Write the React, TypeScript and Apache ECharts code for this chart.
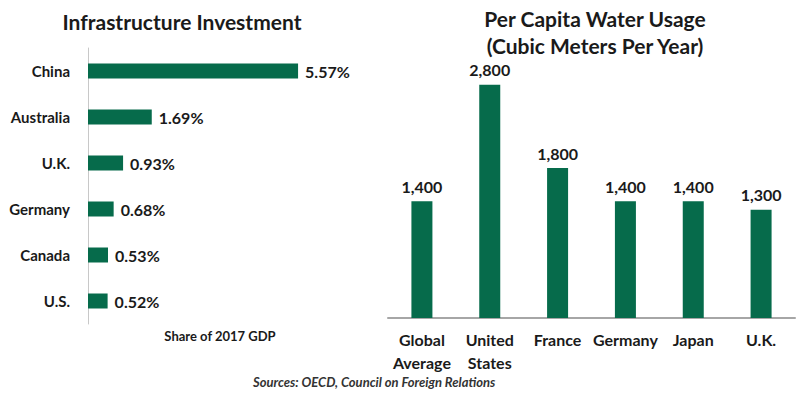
import React, { useEffect, useRef } from "react";
import * as echarts from "echarts";

const infraCountries = ["China", "Australia", "U.K.", "Germany", "Canada", "U.S."];
const infraValues = [5.57, 1.69, 0.93, 0.68, 0.53, 0.52];

const waterCountries = ["Global\nAverage", "United\nStates", "France", "Germany", "Japan", "U.K."];
const waterValues = [1400, 2800, 1800, 1400, 1400, 1300];

const GREEN = "#066b4b";
const TEXT = "#1a1a1a";
const FONT = "Lato, 'Open Sans', sans-serif";

export default function App() {
  const ref = useRef<HTMLDivElement>(null);
  useEffect(() => {
    if (!ref.current) return;
    const chart = echarts.init(ref.current, undefined, { renderer: "svg" });
    chart.setOption({
      animation: false,
      backgroundColor: "#ffffff",
      textStyle: { fontFamily: FONT },
      title: [
        {
          text: "Infrastructure Investment",
          left: 177,
          top: 6,
          textAlign: "center",
          textStyle: { fontFamily: FONT, fontSize: 21, fontWeight: "bold", color: TEXT },
        },
        {
          text: "Per Capita Water Usage\n(Cubic Meters Per Year)",
          left: 590,
          top: 0,
          textAlign: "center",
          textStyle: { fontFamily: FONT, fontSize: 21, fontWeight: "bold", color: TEXT, lineHeight: 27 },
        },
      ],
      grid: [
        { left: 88, top: 48, width: 264, height: 276, containLabel: false },
        { left: 388, top: 68, width: 407, height: 250, containLabel: false },
      ],
      xAxis: [
        {
          gridIndex: 0,
          type: "value",
          min: 0,
          max: 7,
          axisLabel: { show: false },
          axisLine: { show: false },
          axisTick: { show: false },
          splitLine: { show: false },
          name: "Share of 2017 GDP",
          nameLocation: "middle",
          nameGap: 5,
          nameTextStyle: { fontFamily: FONT, fontSize: 13, fontWeight: "bold", color: TEXT },
        },
        {
          gridIndex: 1,
          type: "category",
          data: waterCountries,
          axisLine: { show: true, lineStyle: { color: "#a6a6a6", width: 2 } },
          axisTick: { show: false },
          axisLabel: {
            interval: 0,
            margin: 10,
            fontFamily: FONT,
            fontSize: 16,
            fontWeight: "bold",
            color: TEXT,
            lineHeight: 23,
          },
        },
      ],
      yAxis: [
        {
          gridIndex: 0,
          type: "category",
          data: infraCountries,
          inverse: true,
          axisLine: { show: true, lineStyle: { color: "#c8c8c8", width: 1 } },
          axisTick: { show: false },
          axisLabel: { margin: 18, fontFamily: FONT, fontSize: 15, fontWeight: "bold", color: TEXT },
        },
        {
          gridIndex: 1,
          type: "value",
          min: 0,
          max: 3000,
          axisLabel: { show: false },
          axisLine: { show: false },
          axisTick: { show: false },
          splitLine: { show: false },
        },
      ],
      series: [
        {
          type: "bar",
          xAxisIndex: 0,
          yAxisIndex: 0,
          data: infraValues,
          barWidth: 15,
          itemStyle: { color: GREEN },
          label: {
            show: true,
            position: "right",
            distance: 7,
            formatter: (p: any) => p.value.toFixed(2) + "%",
            fontFamily: FONT,
            fontSize: 16,
            fontWeight: "bold",
            color: TEXT,
          },
        },
        {
          type: "bar",
          xAxisIndex: 1,
          yAxisIndex: 1,
          data: waterValues,
          barWidth: 21,
          itemStyle: { color: GREEN },
          label: {
            show: true,
            position: "top",
            distance: 7,
            formatter: (p: any) => p.value.toLocaleString("en-US"),
            fontFamily: FONT,
            fontSize: 16,
            fontWeight: "bold",
            color: TEXT,
          },
        },
      ],
      graphic: [
        {
          type: "text",
          left: 253,
          top: 375,
          style: {
            text: "Sources: OECD, Council on Foreign Relations",
            font: "italic bold 13px " + FONT,
            fill: "#333333",
          },
        },
      ],
    });
    return () => chart.dispose();
  }, []);
  return (
    <div
      ref={ref}
      style={{ position: "absolute", left: 0, top: 0, width: 800, height: 396 }}
    />
  );
}
